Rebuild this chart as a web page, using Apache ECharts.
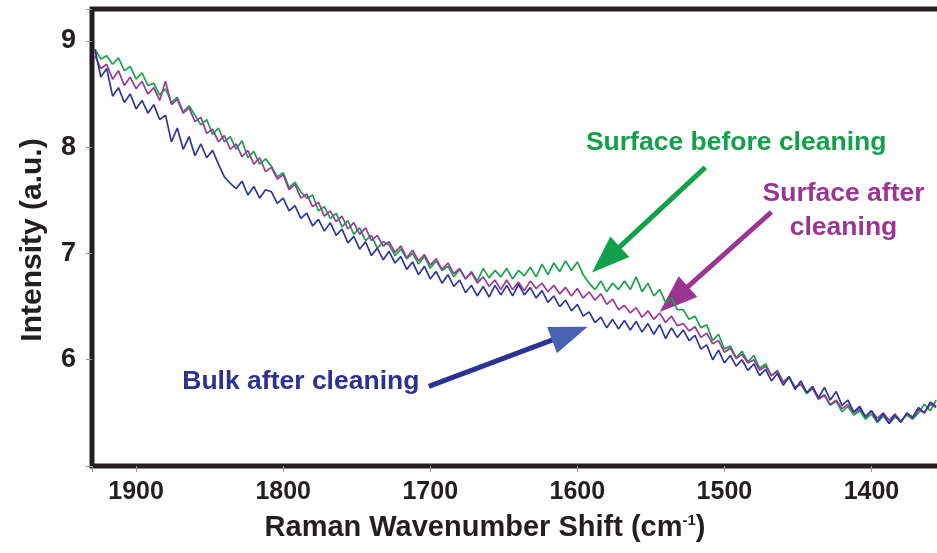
<!DOCTYPE html>
<html>
<head>
<meta charset="utf-8">
<title>Raman spectra</title>
<script src="https://cdn.jsdelivr.net/npm/echarts@6/dist/echarts.min.js"></script>
<style>
  html, body { margin: 0; padding: 0; background: #fff; }
  #main { width: 937px; height: 553px; }
</style>
</head>
<body>
<div id="main"></div>
<script>
// wavenumber grid (cm-1), every 4 from 1928 down to 1356
var wavenumbers = [];
for (var w = 1928; w >= 1356; w -= 4) wavenumbers.push(w);

// intensities, one per wavenumber (10 per row)
var surfaceBefore = [
  8.92, 8.83, 8.86, 8.78, 8.84, 8.72, 8.76, 8.64, 8.70, 8.58,
  8.60, 8.49, 8.55, 8.42, 8.47, 8.33, 8.39, 8.30, 8.21, 8.26,
  8.12, 8.18, 8.05, 8.10, 7.98, 8.06, 7.90, 7.96, 7.84, 7.89,
  7.82, 7.72, 7.76, 7.62, 7.67, 7.58, 7.52, 7.55, 7.40, 7.44,
  7.33, 7.38, 7.25, 7.31, 7.18, 7.24, 7.12, 7.17, 7.05, 7.11,
  7.08, 6.98, 7.04, 6.95, 7.00, 6.90, 6.97, 6.86, 6.93, 6.84,
  6.88, 6.78, 6.85, 6.76, 6.83, 6.74, 6.86, 6.77, 6.84, 6.78,
  6.86, 6.76, 6.84, 6.79, 6.87, 6.78, 6.90, 6.80, 6.91, 6.83,
  6.93, 6.84, 6.92, 6.80, 6.72, 6.66, 6.74, 6.64, 6.72, 6.66,
  6.74, 6.66, 6.78, 6.64, 6.72, 6.60, 6.66, 6.54, 6.58, 6.47,
  6.47, 6.38, 6.41, 6.30, 6.33, 6.18, 6.24, 6.10, 6.13, 6.02,
  6.08, 5.98, 6.04, 5.92, 5.96, 5.85, 5.90, 5.79, 5.84, 5.74,
  5.77, 5.68, 5.73, 5.63, 5.66, 5.57, 5.61, 5.51, 5.56, 5.48,
  5.52, 5.44, 5.49, 5.41, 5.47, 5.40, 5.46, 5.42, 5.48, 5.44,
  5.50, 5.58, 5.52, 5.62
];
var surfaceAfter = [
  8.86, 8.74, 8.78, 8.64, 8.72, 8.58, 8.66, 8.55, 8.62, 8.50,
  8.56, 8.44, 8.62, 8.40, 8.45, 8.32, 8.37, 8.24, 8.28, 8.13,
  8.17, 8.05, 8.11, 7.98, 8.03, 7.91, 7.97, 7.84, 7.90, 7.77,
  7.81, 7.70, 7.74, 7.60, 7.65, 7.52, 7.56, 7.44, 7.48, 7.35,
  7.40, 7.30, 7.35, 7.23, 7.29, 7.18, 7.24, 7.12, 7.17, 7.07,
  7.11, 7.01, 7.07, 6.96, 7.03, 6.93, 6.99, 6.89, 6.95, 6.85,
  6.91, 6.81, 6.86, 6.76, 6.82, 6.72, 6.78, 6.69, 6.75, 6.66,
  6.75, 6.66, 6.73, 6.65, 6.74, 6.67, 6.72, 6.64, 6.70, 6.62,
  6.68, 6.60, 6.67, 6.58, 6.64, 6.56, 6.62, 6.52, 6.57, 6.47,
  6.51, 6.44, 6.49, 6.40, 6.46, 6.38, 6.44, 6.35, 6.41, 6.32,
  6.34, 6.27, 6.31, 6.21, 6.25, 6.15, 6.18, 6.07, 6.11, 6.01,
  6.05, 5.97, 6.00, 5.90, 5.94, 5.85, 5.89, 5.79, 5.83, 5.74,
  5.77, 5.69, 5.73, 5.63, 5.67, 5.58, 5.62, 5.54, 5.58, 5.50,
  5.54, 5.47, 5.52, 5.45, 5.50, 5.43, 5.49, 5.42, 5.49, 5.45,
  5.53, 5.50, 5.58, 5.55
];
var bulkAfter = [
  8.92, 8.66, 8.74, 8.48, 8.56, 8.42, 8.50, 8.36, 8.44, 8.32,
  8.40, 8.26, 8.30, 8.05, 8.18, 7.98, 8.10, 7.92, 8.03, 7.90,
  7.97, 7.84, 7.72, 7.66, 7.61, 7.68, 7.55, 7.63, 7.52, 7.60,
  7.58, 7.47, 7.52, 7.40, 7.45, 7.33, 7.38, 7.26, 7.32, 7.21,
  7.29, 7.17, 7.23, 7.10, 7.16, 7.04, 7.11, 6.98, 7.05, 6.94,
  7.02, 6.91, 6.97, 6.85, 6.92, 6.80, 6.88, 6.76, 6.83, 6.72,
  6.80, 6.69, 6.75, 6.63, 6.70, 6.60, 6.69, 6.59, 6.70, 6.61,
  6.70, 6.60, 6.71, 6.61, 6.68, 6.58, 6.65, 6.54, 6.60, 6.50,
  6.56, 6.46, 6.52, 6.41, 6.45, 6.35, 6.40, 6.30, 6.38, 6.29,
  6.37, 6.28, 6.36, 6.26, 6.34, 6.24, 6.33, 6.20, 6.30, 6.21,
  6.28, 6.18, 6.23, 6.10, 6.14, 6.00, 6.09, 5.97, 6.04, 5.94,
  6.00, 5.90, 5.96, 5.85, 5.91, 5.80, 5.87, 5.76, 5.84, 5.72,
  5.80, 5.69, 5.75, 5.64, 5.74, 5.62, 5.70, 5.57, 5.62, 5.51,
  5.56, 5.46, 5.52, 5.42, 5.49, 5.40, 5.48, 5.41, 5.50, 5.46,
  5.55, 5.50, 5.60, 5.56
];
var yTicks = [6, 7, 8, 9];

function pairs(ys) {
  return ys.map(function (v, i) { return [wavenumbers[i], v]; });
}

var font = "'Liberation Sans', Arial, sans-serif";

var myChart = echarts.init(document.getElementById('main'));
var option = {
  animation: false,
  backgroundColor: '#fff',
  grid: {
    left: 92,
    right: -8,
    top: 9,
    bottom: 87,
    show: true,
    borderColor: '#231f20',
    borderWidth: 5,
    outerBoundsMode: 'none'
  },
  xAxis: {
    type: 'value',
    inverse: true,
    min: 1350,
    max: 1930,
    splitNumber: 5,
    axisLine: { show: false },
    splitLine: { show: false },
    axisTick: { show: true, length: 6, lineStyle: { color: '#9a9a9a', width: 1 } },
    axisLabel: {
      margin: 14,
      color: '#231f20',
      fontFamily: font,
      fontWeight: 'bold',
      fontSize: 25,
      formatter: function (v) { return v % 100 === 0 ? String(v) : ''; }
    }
  },
  yAxis: {
    type: 'value',
    min: 5,
    max: 9.3,
    interval: 1,
    axisLine: { show: false },
    splitLine: { show: false },
    axisTick: { show: true, length: 6, lineStyle: { color: '#9a9a9a', width: 1 } },
    axisLabel: {
      margin: 16,
      color: '#231f20',
      fontFamily: font,
      fontWeight: 'bold',
      fontSize: 27,
      formatter: function (v) { return yTicks.indexOf(v) >= 0 ? String(v) : ''; }
    }
  },
  series: [
    {
      name: 'Surface before cleaning',
      type: 'line',
      data: pairs(surfaceBefore),
      showSymbol: false,
      lineStyle: { color: '#1ba24c', width: 1.7 }
    },
    {
      name: 'Surface after cleaning',
      type: 'line',
      data: pairs(surfaceAfter),
      showSymbol: false,
      lineStyle: { color: '#9b3a97', width: 1.7 }
    },
    {
      name: 'Bulk after cleaning',
      type: 'line',
      data: pairs(bulkAfter),
      showSymbol: false,
      lineStyle: { color: '#2f3798', width: 1.7 }
    }
  ]
};
myChart.setOption(option);

// annotations: arrow tail / tip and label centre, in data coordinates
var notes = [
  { text: 'Surface before cleaning', color: '#12a04a', line: '#12a04a', head: '#12a04a',
    label: [1492, 8.04], tail: [1513, 7.81], tip: [1590, 6.82] },
  { text: 'Surface after\ncleaning', color: '#9b3593', line: '#9b3593', head: '#9b3593',
    label: [1419, 7.40], tail: [1468, 7.39], tip: [1544, 6.45] },
  { text: 'Bulk after cleaning', color: '#2e3192', line: '#2e3192', head: '#4762b0',
    label: [1788, 5.79], tail: [1701, 5.75], tip: [1593, 6.31] }
];

function toPx(p) {
  return myChart.convertToPixel({ gridIndex: 0 }, p);
}

var graphics = [];
notes.forEach(function (n) {
  var c = toPx(n.label);
  graphics.push({
    type: 'text',
    x: c[0],
    y: c[1],
    style: {
      text: n.text,
      fill: n.color,
      font: 'bold 26.5px ' + font,
      align: 'center',
      verticalAlign: 'middle',
      lineHeight: 34
    }
  });
  // arrow: shaft + triangular head
  var a = toPx(n.tail), b = toPx(n.tip);
  var dx = b[0] - a[0], dy = b[1] - a[1];
  var len = Math.sqrt(dx * dx + dy * dy);
  var ux = dx / len, uy = dy / len;
  var headLen = 38, headHalf = 14;
  var bx = b[0] - ux * headLen, by = b[1] - uy * headLen;
  graphics.push({
    type: 'line',
    shape: { x1: a[0], y1: a[1], x2: bx + ux * 2, y2: by + uy * 2 },
    style: { stroke: n.line, lineWidth: 5 }
  });
  graphics.push({
    type: 'polygon',
    shape: {
      points: [
        [b[0], b[1]],
        [bx - uy * headHalf, by + ux * headHalf],
        [bx + uy * headHalf, by - ux * headHalf]
      ]
    },
    style: { fill: n.head }
  });
});

// axis titles
graphics.push({
  type: 'text',
  x: 33,
  y: 240,
  rotation: Math.PI / 2,
  style: {
    text: 'Intensity (a.u.)',
    fill: '#231f20',
    font: 'bold 30px ' + font,
    align: 'center',
    verticalAlign: 'middle'
  }
});
graphics.push({
  type: 'text',
  x: 485,
  y: 528,
  style: {
    text: 'Raman Wavenumber Shift (cm{sup|-1})',
    fill: '#231f20',
    font: 'bold 29px ' + font,
    align: 'center',
    verticalAlign: 'middle',
    rich: {
      sup: { fontSize: 15, fontWeight: 'bold', fontFamily: font, verticalAlign: 'top', padding: [0, 0, 12, 0], fill: '#231f20' }
    }
  }
});

myChart.setOption({ graphic: graphics });

window.addEventListener('resize', function () {
  myChart.resize();
});
</script>
</body>
</html>
